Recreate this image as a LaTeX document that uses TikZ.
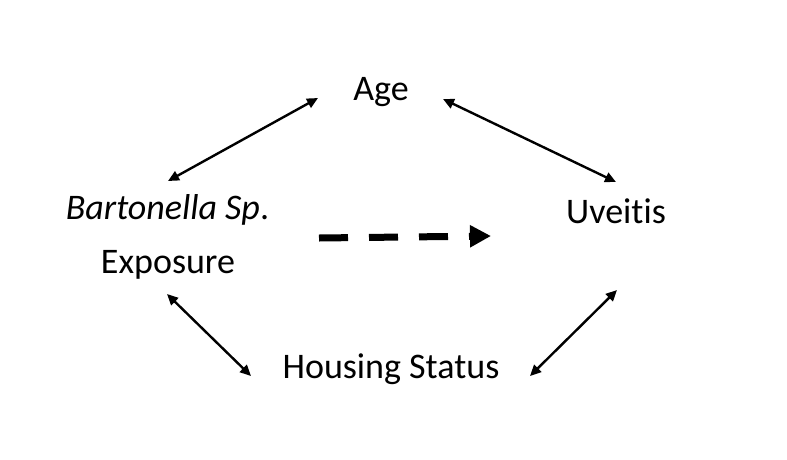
\documentclass[tikz,border=0pt]{standalone}
\usepackage{fontspec}
\setmainfont{Carlito}[Ligatures={NoCommon}]
\usetikzlibrary{arrows.meta}
\begin{document}
\begin{tikzpicture}[x=1pt,y=-1pt,
  lbl/.style={inner sep=0pt,anchor=base,font=\fontsize{36}{43}\selectfont},
  dbl/.style={line width=2.4pt,{Triangle[length=11pt,width=10pt]}-{Triangle[length=11pt,width=10pt]}},
  causal/.style={line width=7pt,dash pattern=on 29pt off 21pt,-{Triangle[length=21pt,width=21pt]}}]
\useasboundingbox (0,0) rectangle (787,459);
\node[lbl] (age) at (381,100) {Age};
\node[lbl] (uve) at (616,223) {Uveitis};
\node[lbl] (bart) at (167.5,219) {\textit{Bartonella Sp}.};
\node[lbl] (expo) at (168,273) {Exposure};
\node[lbl] (hous) at (391,378) {Housing Status};
\coordinate (a1) at (168,181); \coordinate (a2) at (318,98);
\coordinate (b1) at (443,99); \coordinate (b2) at (616,182);
\coordinate (c1) at (167,294); \coordinate (c2) at (251,376);
\coordinate (d1) at (530,376); \coordinate (d2) at (617,290);
\coordinate (e1) at (319,238); \coordinate (e2) at (491,236);
\draw[dbl] (a1) -- (a2);
\draw[dbl] (b1) -- (b2);
\draw[dbl] (c1) -- (c2);
\draw[dbl] (d1) -- (d2);
\draw[causal] (e1) -- (e2);
\end{tikzpicture}
\end{document}
